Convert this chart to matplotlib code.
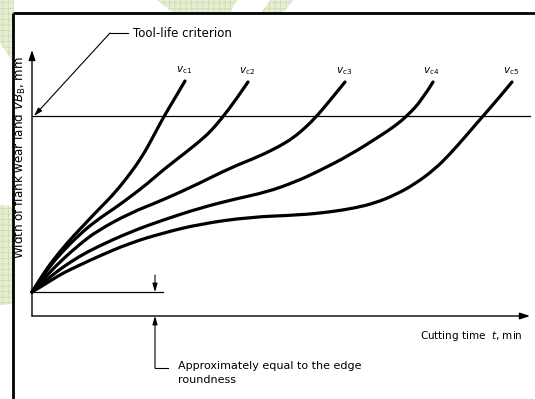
import matplotlib.pyplot as plt
from matplotlib.patches import Polygon, Circle, Rectangle, PathPatch
from matplotlib.path import Path

# flank wear curves for five cutting speeds (cutting time t, wear width VB)
t_vc1 = [0, 0.8, 1.8, 3.5, 5.0, 6.6, 8.0, 9.5, 11.0, 12.1, 13.1, 14.3, 15.3]
vb_vc1 = [2.4, 3.7, 5.2, 7.3, 8.9, 10.6, 12.0, 13.8, 15.9, 17.9, 19.8, 21.8, 23.5]

t_vc2 = [0, 0.8, 1.8, 3.1, 4.8, 6.5, 8.3, 9.8, 11.5, 13.1, 15.3, 16.8, 17.9, 19.0, 20.3, 21.6]
vb_vc2 = [2.4, 3.5, 5.0, 6.5, 8.2, 9.6, 10.8, 11.9, 13.2, 14.6, 16.3, 17.5, 18.5, 19.8, 21.5, 23.4]

t_vc3 = [0, 1.0, 1.8, 3.1, 4.8, 6.5, 9.8, 13.1, 16.8, 19.8, 22.8, 24.8, 26.1, 27.3, 28.5, 30.0, 31.3]
vb_vc3 = [2.4, 3.5, 4.4, 5.7, 7.2, 8.5, 10.3, 11.6, 13.3, 14.8, 16.0, 17.0, 17.8, 18.8, 20.0, 21.8, 23.4]

t_vc4 = [0, 1.0, 1.8, 3.1, 4.8, 6.5, 9.8, 13.1, 16.8, 20.3, 23.5, 26.3, 28.5, 31.8, 34.8, 36.3, 37.5, 39.0, 40.1]
vb_vc4 = [2.4, 3.2, 3.9, 4.9, 6.0, 6.9, 8.4, 9.6, 10.8, 11.7, 12.4, 13.4, 14.4, 16.1, 18.0, 19.0, 20.0, 21.6, 23.4]

t_vc5 = [0, 1.0, 1.8, 3.1, 4.8, 6.5, 9.8, 13.1, 16.8, 21.8, 26.8, 29.8, 32.3, 34.3, 36.3,
         38.3, 40.3, 41.8, 43.3, 45.1, 46.6, 48.0]
vb_vc5 = [2.4, 3.0, 3.5, 4.3, 5.1, 5.9, 7.3, 8.3, 9.2, 9.9, 10.1, 10.4, 10.8, 11.3, 12.1,
          13.2, 14.7, 16.2, 17.9, 20.0, 21.7, 23.4]

curves = [
    (r"$v_{\mathrm{c1}}$", t_vc1, vb_vc1),
    (r"$v_{\mathrm{c2}}$", t_vc2, vb_vc2),
    (r"$v_{\mathrm{c3}}$", t_vc3, vb_vc3),
    (r"$v_{\mathrm{c4}}$", t_vc4, vb_vc4),
    (r"$v_{\mathrm{c5}}$", t_vc5, vb_vc5),
]

vb_criterion = 20.0      # tool-life criterion
vb_edge = 2.4            # initial wear ~ edge roundness
t_axis_end = 49.8
vb_axis_end = 26.6


def smooth_path(xs, ys):
    # quadratic bezier through midpoints, the read points act as control points
    pts = list(zip(xs, ys))
    verts = [pts[0]]
    codes = [Path.MOVETO]
    n = len(pts)
    for i in range(1, n - 1):
        if i < n - 2:
            end = ((pts[i][0] + pts[i + 1][0]) / 2, (pts[i][1] + pts[i + 1][1]) / 2)
        else:
            end = pts[-1]
        verts += [pts[i], end]
        codes += [Path.CURVE3, Path.CURVE3]
    return Path(verts, codes)


W, H = 535, 399
fig = plt.figure(figsize=(W / 100, H / 100), dpi=100)

# ---- slide background decoration (pixel coordinates) ----
bg = fig.add_axes([0, 0, 1, 1])
bg.set_xlim(0, W)
bg.set_ylim(H, 0)
bg.axis("off")
plt.rcParams["hatch.linewidth"] = 0.5
plt.rcParams["hatch.color"] = "#c9dcaa"
green = dict(facecolor="#e6efd5", edgecolor="#c9dcaa", hatch="+++", lw=0)
bg.add_patch(Polygon([(0, 0), (14, 0), (14, 64), (0, 43)], **green))
bg.add_patch(Polygon([(157, 0), (237, 0), (230, 13), (173, 13)], **green))
bg.add_patch(Polygon([(270, 0), (293, 0), (283, 13), (261, 13)], **green))
bg.add_patch(Circle((0, 255), 50, **green))
bg.add_patch(Rectangle((13, 13), W, H, facecolor="white", edgecolor="none", zorder=2))
bg.plot([13, 13], [13, H], color="black", lw=2.0, zorder=3, solid_capstyle="butt")
bg.plot([13, W], [13, 13], color="black", lw=2.0, zorder=3, solid_capstyle="butt")

# ---- wear diagram ----
ax = fig.add_axes([0, 0, 1, 1])
ax.set_xlim(-3.2, 50.3)
ax.set_ylim(-8.3, 31.6)
ax.axis("off")
ax.patch.set_alpha(0)

axis_kw = dict(arrowstyle="-|>,head_length=0.6,head_width=0.2", color="black", lw=1.0,
               shrinkA=0, shrinkB=0)
ax.annotate("", xy=(0, vb_axis_end), xytext=(0, 0), arrowprops=axis_kw)
ax.annotate("", xy=(t_axis_end, 0), xytext=(0, 0), arrowprops=axis_kw)

ax.plot([0, t_axis_end], [vb_criterion, vb_criterion], color="black", lw=0.9)
ax.plot([0, 13.1], [vb_edge, vb_edge], color="black", lw=0.9)

for label, t, vb in curves:
    ax.add_patch(PathPatch(smooth_path(t, vb), fill=False, edgecolor="black", lw=2.3,
                           capstyle="round", joinstyle="round"))
    ax.annotate(label, xy=(t[-1], vb[-1]), xytext=(-1, 8), textcoords="offset points",
                ha="center", va="center", fontsize=7.5)

# tool-life criterion leader
ax.plot([7.8, 9.6], [28.3, 28.3], color="black", lw=0.8)
ax.annotate("", xy=(0.2, vb_criterion), xytext=(7.8, 28.3),
            arrowprops=dict(arrowstyle="-|>,head_length=0.5,head_width=0.15",
                            color="black", lw=0.8, shrinkA=0, shrinkB=0))
ax.text(10.1, 28.3, "Tool-life criterion", fontsize=8.5, va="center", ha="left")

# edge roundness dimension
dim_kw = dict(arrowstyle="-|>,head_length=0.5,head_width=0.15", color="black", lw=0.8,
              shrinkA=0, shrinkB=0)
ax.annotate("", xy=(12.3, vb_edge), xytext=(12.3, 4.1), arrowprops=dim_kw)
ax.annotate("", xy=(12.3, 0), xytext=(12.3, -5.2), arrowprops=dim_kw)
ax.plot([12.3, 13.6], [-5.2, -5.2], color="black", lw=0.8)
ax.text(14.6, -4.5, "Approximately equal to the edge\nroundness", fontsize=8,
        va="top", ha="left", linespacing=1.45)

ax.text(49.1, -2.0, r"Cutting time  $t$, min", fontsize=7.5, ha="right", va="center")
ax.text(-1.2, 15.8, r"Width of flank wear land $VB_{\mathrm{B}}$, mm", fontsize=8.6,
        rotation=90, ha="center", va="center")

fig.savefig("out.png", dpi=100)
